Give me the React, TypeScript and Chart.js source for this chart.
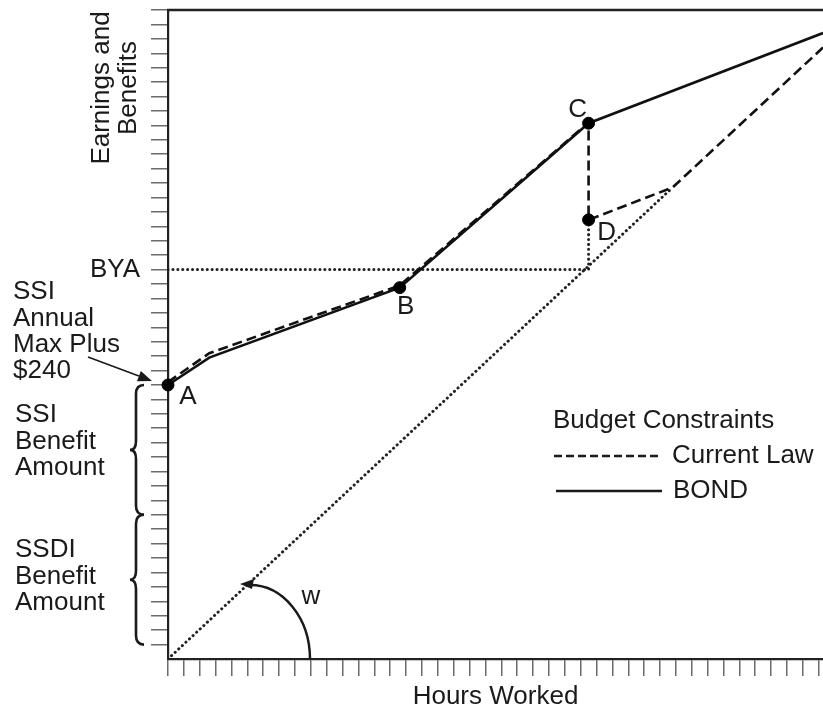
import React, { useEffect, useRef } from 'react';
import { Chart, registerables } from 'chart.js';

Chart.register(...registerables);

// ---- axis ranges (tick units) ----
const hoursMax = 41.27;
const earningsMax = 45;

// ---- budget constraint series ----
const bondX = [0, 2.6, 14.6, 26.5, 41.27];
const bondY = [19, 20.9, 25.75, 37.15, 43.4];
const currentLawX = [0, 2.6, 14.6, 26.5, 26.5, 31.8, 41.27];
const currentLawY = [19.2, 21.2, 25.9, 37.2, 30.45, 32.7, 42.4];

// ---- earnings (wage) line and BYA guides ----
const wageX = [0, 31.8];
const wageY = [0, 32.7];
const byaLevel = 27;
const byaX = [0, 26.5];
const dropX = [26.5, 26.5];
const dropY = [30.45, 27];

// ---- labelled points ----
const pointNames = ['A', 'B', 'C', 'D'];
const pointX = [0, 14.6, 26.5, 26.5];
const pointY = [19, 25.75, 37.15, 30.45];

// ---- benefit brackets on the y axis ----
const ssiRange = [10, 19];
const ssdiRange = [1, 10];

// ---- text ----
const xTitle = 'Hours Worked';
const yTitleLines = ['Earnings and', 'Benefits'];
const ssiMaxLines = ['SSI', 'Annual', 'Max Plus', '$240'];
const ssiBenefitLines = ['SSI', 'Benefit', 'Amount'];
const ssdiBenefitLines = ['SSDI', 'Benefit', 'Amount'];
const byaLabel = 'BYA';
const legendTitle = 'Budget Constraints';
const wageLabel = 'w';

const FONT = '"Liberation Sans", Arial, Helvetica, sans-serif';
const INK = '#1a1a1a';

const zip = (xs: number[], ys: number[]) => xs.map((v, i) => ({ x: v, y: ys[i] }));

// label offsets (px) for A,B,C,D
const labelDx = [20, 6, -11, 18];
const labelDy = [12, 19, -13, 13];

const annotate = {
  id: 'annotate',
  afterDatasetsDraw(chart: any) {
    const { ctx, chartArea: a, scales } = chart;
    const sx = scales.x;
    const sy = scales.y;
    const px = (v: number) => sx.getPixelForValue(v);
    const py = (v: number) => sy.getPixelForValue(v);
    ctx.save();

    // top frame line
    ctx.strokeStyle = '#222';
    ctx.lineWidth = 2.5;
    ctx.beginPath();
    ctx.moveTo(a.left - 1, a.top);
    ctx.lineTo(a.right, a.top);
    ctx.stroke();

    ctx.fillStyle = INK;
    ctx.font = `26px ${FONT}`;
    ctx.textBaseline = 'middle';

    // y title (rotated)
    ctx.textAlign = 'center';
    yTitleLines.forEach((t, i) => {
      ctx.save();
      ctx.translate(102 + i * 27, 88);
      ctx.rotate(-Math.PI / 2);
      ctx.fillText(t, 0, 0);
      ctx.restore();
    });

    // left texts
    ctx.textAlign = 'left';
    ctx.fillText(byaLabel, 90, py(byaLevel));
    ssiMaxLines.forEach((t, i) => ctx.fillText(t, 13, 292 + i * 26.4));
    ssiBenefitLines.forEach((t, i) => ctx.fillText(t, 15, 415 + i * 26.5));
    ssdiBenefitLines.forEach((t, i) => ctx.fillText(t, 15, 550 + i * 26.5));

    // braces
    const brace = (v1: number, v2: number) => {
      const y1 = py(v2);
      const y2 = py(v1);
      const ym = (y1 + y2) / 2;
      const xe = 144, xs = 136, xt = 130, q = 9;
      ctx.beginPath();
      ctx.moveTo(xe, y1);
      ctx.quadraticCurveTo(xs, y1, xs, y1 + q);
      ctx.lineTo(xs, ym - q);
      ctx.quadraticCurveTo(xs, ym, xt, ym);
      ctx.quadraticCurveTo(xs, ym, xs, ym + q);
      ctx.lineTo(xs, y2 - q);
      ctx.quadraticCurveTo(xs, y2, xe, y2);
      ctx.stroke();
    };
    ctx.strokeStyle = INK;
    ctx.lineWidth = 2.6;
    ctx.setLineDash([]);
    brace(ssiRange[0], ssiRange[1]);
    brace(ssdiRange[0], ssdiRange[1]);

    // arrow from "$240" text to A
    const arrow = (x0: number, y0: number, x1: number, y1: number, len: number, half: number) => {
      const ang = Math.atan2(y1 - y0, x1 - x0);
      const bx = x1 - len * Math.cos(ang);
      const by = y1 - len * Math.sin(ang);
      ctx.beginPath();
      ctx.moveTo(x0, y0);
      ctx.lineTo(bx, by);
      ctx.stroke();
      ctx.beginPath();
      ctx.moveTo(x1, y1);
      ctx.lineTo(bx + half * Math.sin(ang), by - half * Math.cos(ang));
      ctx.lineTo(bx - half * Math.sin(ang), by + half * Math.cos(ang));
      ctx.closePath();
      ctx.fill();
    };
    ctx.lineWidth = 1.6;
    arrow(88, 357, px(0) - 16, py(pointY[0]) - 4, 14, 5.5);

    // angle arc for w
    const ox = px(0);
    const oy = py(0);
    ctx.lineWidth = 2.5;
    ctx.beginPath();
    ctx.ellipse(ox + 82, oy, 60, 74, 0, 0, -Math.PI / 2, true);
    ctx.stroke();
    ctx.beginPath();
    ctx.moveTo(ox + 72, oy - 75);
    ctx.lineTo(ox + 86, oy - 80);
    ctx.lineTo(ox + 84, oy - 70);
    ctx.closePath();
    ctx.fill();
    ctx.textAlign = 'center';
    ctx.fillText(wageLabel, ox + 143, oy - 62);

    // point labels
    pointNames.forEach((n, i) => {
      ctx.fillText(n, px(pointX[i]) + labelDx[i], py(pointY[i]) + labelDy[i]);
    });

    // legend
    const ds = chart.data.datasets;
    const cur = ds.find((d: any) => d.label === 'Current Law');
    const bond = ds.find((d: any) => d.label === 'BOND');
    ctx.textAlign = 'left';
    ctx.fillText(legendTitle, 553, 421);
    ctx.lineWidth = 2.5;
    ctx.setLineDash([8, 4]);
    ctx.beginPath();
    ctx.moveTo(554, 456);
    ctx.lineTo(662, 456);
    ctx.stroke();
    ctx.setLineDash([]);
    ctx.fillText(cur.label, 672, 456);
    ctx.beginPath();
    ctx.moveTo(556, 491);
    ctx.lineTo(662, 491);
    ctx.stroke();
    ctx.fillText(bond.label, 673, 491);

    ctx.restore();
  },
};

export default function App() {
  const ref = useRef<HTMLCanvasElement>(null);
  useEffect(() => {
    if (!ref.current) return;
    Chart.defaults.font.family = FONT;
    const dotted = { borderDash: [0.1, 4.8], borderCapStyle: 'round', borderWidth: 3 };
    const chart = new Chart(ref.current, {
      type: 'scatter',
      data: {
        datasets: [
          {
            label: 'points',
            data: zip(pointX, pointY),
            pointRadius: 6,
            pointHoverRadius: 6,
            pointBackgroundColor: '#000',
            pointBorderColor: '#000',
            showLine: false,
            clip: false,
          } as any,
          {
            label: 'Current Law',
            data: zip(currentLawX, currentLawY),
            showLine: true,
            borderColor: '#111',
            borderWidth: 2.6,
            borderDash: [10, 5],
            pointRadius: 0,
            tension: 0,
          },
          {
            label: 'BOND',
            data: zip(bondX, bondY),
            showLine: true,
            borderColor: '#111',
            borderWidth: 2.6,
            pointRadius: 0,
            tension: 0,
          },
          {
            label: 'wage',
            data: zip(wageX, wageY),
            showLine: true,
            borderColor: '#222',
            pointRadius: 0,
            ...dotted,
          } as any,
          {
            label: 'BYA',
            data: zip(byaX, [byaLevel, byaLevel]),
            showLine: true,
            borderColor: '#222',
            pointRadius: 0,
            ...dotted,
          } as any,
          {
            label: 'drop',
            data: zip(dropX, dropY),
            showLine: true,
            borderColor: '#222',
            pointRadius: 0,
            ...dotted,
          } as any,
        ],
      },
      options: {
        animation: false,
        responsive: false,
        events: [],
        layout: { autoPadding: false, padding: { top: 10, left: 0, right: 0, bottom: 0 } },
        plugins: { legend: { display: false }, tooltip: { enabled: false } },
        scales: {
          x: {
            type: 'linear',
            min: 0,
            max: hoursMax,
            ticks: { stepSize: 1, display: false, includeBounds: false },
            grid: { drawOnChartArea: false, drawTicks: true, tickLength: 17, color: '#6b6b6b', lineWidth: 1.5 },
            border: { display: true, color: '#222', width: 2.2 },
            title: { display: true, text: xTitle, color: INK, font: { size: 26, lineHeight: 0.85 }, padding: 0 },
            afterFit: (s: any) => { s.height = 49; },
          },
          y: {
            type: 'linear',
            min: 0,
            max: earningsMax,
            ticks: { stepSize: 1, display: false, includeBounds: false },
            grid: {
              drawOnChartArea: false,
              drawTicks: true,
              tickLength: 17,
              color: '#6b6b6b',
              tickColor: (c: any) => (c.tick && c.tick.value === 0 ? 'rgba(0,0,0,0)' : '#6b6b6b'),
              lineWidth: 1.5,
            },
            border: { display: true, color: '#222', width: 2.2 },
            afterFit: (s: any) => { s.width = 168; },
          },
        },
      } as any,
      plugins: [annotate],
    });
    return () => chart.destroy();
  }, []);
  return (
    <div style={{ position: 'fixed', left: 0, top: 0, width: 823, height: 708, background: '#fff' }}>
      <canvas ref={ref} width={823} height={708} style={{ width: 823, height: 708, display: 'block' }} />
    </div>
  );
}
